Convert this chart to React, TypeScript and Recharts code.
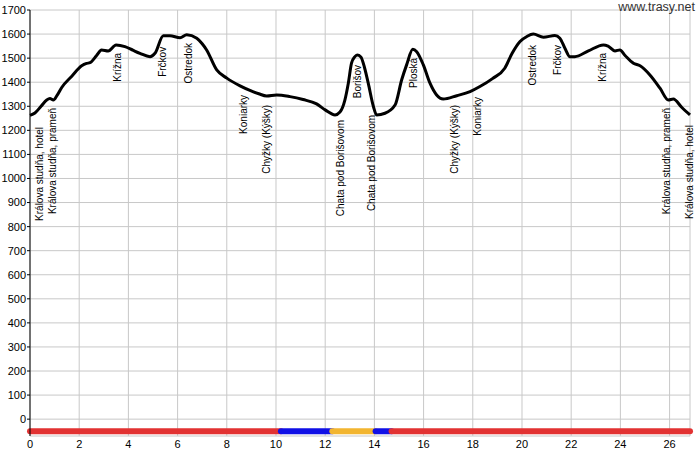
import React from 'react';
import { ComposedChart, Line, Scatter, XAxis, YAxis, CartesianGrid } from 'recharts';

const profileKm = [
  0, 0.2, 0.45, 0.68, 0.81, 0.95, 1.1, 1.29, 1.7, 2.1, 2.3, 2.44, 2.7, 2.91, 3.18, 3.5, 3.86, 4.2, 4.47, 4.88,
  5.08, 5.42, 5.69, 6.1, 6.37, 6.78, 7.0, 7.18, 7.59, 8.0, 8.54, 8.94, 9.3, 9.62, 10.03, 10.57, 11.1, 11.65, 12.0,
  12.4, 12.6, 12.8, 12.94, 13.07, 13.2, 13.3, 13.45, 13.6, 13.75, 13.96, 14.09, 14.43, 14.84, 15.11, 15.31, 15.56,
  15.72, 15.99, 16.26, 16.53, 16.8, 17.35, 17.89, 18.29, 18.8, 19.3, 19.6, 19.92, 20.2, 20.46, 20.87, 21.34, 21.54,
  21.75, 21.95, 22.15, 22.7, 23.31, 23.5, 23.78, 23.98, 24.2, 24.53, 24.8, 25.2, 25.61, 25.95, 26.15, 26.5, 26.83,
];
const profileEle = [
  1262, 1272, 1300, 1326, 1332, 1326, 1345, 1378, 1425, 1468, 1478, 1481, 1510, 1534, 1530, 1555, 1548, 1532, 1520, 1506,
  1520, 1593, 1593, 1585, 1597, 1583, 1560, 1534, 1451, 1417, 1385, 1366, 1352, 1343, 1347, 1340, 1328, 1310, 1285,
  1264, 1276, 1326, 1396, 1479, 1505, 1513, 1505, 1460, 1396, 1299, 1264, 1271, 1305, 1410, 1472, 1537,
  1527, 1472, 1396, 1347, 1330, 1344, 1361, 1382, 1415, 1458, 1520, 1569, 1590, 1600, 1587, 1594, 1583,
  1540, 1506, 1506, 1530, 1555, 1550, 1530, 1534, 1510, 1479, 1468, 1430, 1375, 1326, 1330, 1295, 1264,
];

const labelNames = [
  'Králova studňa, hotel', 'Králova studňa, prameň', 'Krížna', 'Frčkov', 'Ostredok', 'Koniarky', 'Chyžky (Kýšky)',
  'Chata pod Borišovom', 'Borišov', 'Chata pod Borišovom', 'Ploská', 'Chyžky (Kýšky)', 'Koniarky', 'Ostredok',
  'Frčkov', 'Krížna', 'Králova studňa, prameň', 'Králova studňa, hotel',
];
const labelKm = [0.37, 0.93, 3.54, 5.37, 6.46, 8.66, 9.63, 12.64, 13.33, 13.9, 15.61, 17.24, 18.21, 20.41, 21.46, 23.29, 25.89, 26.83];
const labelEle = [1214, 1293, 1522, 1547, 1563, 1347, 1306, 1243, 1472, 1264, 1501, 1306, 1339, 1555, 1555, 1522, 1293, 1222];

const surfaceStart = [0, 10.2, 12.29, 14.05, 14.7];
const surfaceEnd = [10.2, 12.29, 14.05, 14.7, 26.83];
const surfaceType = ['road', 'path', 'gravel', 'path', 'road'];
const surfaceLevel = -50;

const xTicks = [0, 2, 4, 6, 8, 10, 12, 14, 16, 18, 20, 22, 24, 26];
const yTicks = [0, 100, 200, 300, 400, 500, 600, 700, 800, 900, 1000, 1100, 1200, 1300, 1400, 1500, 1600, 1700];

const surfaceColors: Record<string, string> = { road: '#e23232', path: '#1010e6', gravel: '#f2b530' };
const FONT = '"Liberation Sans", Arial, sans-serif';

const profile = profileKm.map((km, i) => ({ km, ele: profileEle[i] }));
const labels = labelKm.map((km, i) => ({ km, ele: labelEle[i], name: labelNames[i] }));
const segments = surfaceStart.map((s, i) => ({
  color: surfaceColors[surfaceType[i]],
  data: [{ km: s, ele: surfaceLevel }, { km: surfaceEnd[i], ele: surfaceLevel }],
}));

const LabelShape = (props: any) => {
  const { cx, cy, payload } = props;
  if (cx == null || cy == null) return null;
  return (
    <text
      x={cx}
      y={cy}
      transform={`rotate(-90, ${cx}, ${cy})`}
      textAnchor="end"
      dominantBaseline="central"
      fontSize={10}
      fontFamily={FONT}
      fill="#000"
    >
      {payload.name}
    </text>
  );
};

export default function App() {
  return (
    <div style={{ position: 'absolute', left: 0, top: 0, width: 700, height: 450, background: '#fff' }}>
      <ComposedChart width={700} height={450} margin={{ top: 10, right: 10, bottom: 0, left: 0 }}>
        <CartesianGrid stroke="#c8c8c8" strokeWidth={1} />
        <XAxis
          dataKey="km"
          type="number"
          domain={[0, 26.83]}
          ticks={xTicks}
          interval={0}
          axisLine={false}
          tickLine={false}
          tickSize={2}
          tickMargin={2}
          height={14}
          tick={{ fontSize: 11, fontFamily: FONT, fill: '#000' }}
        />
        <YAxis
          dataKey="ele"
          type="number"
          domain={[-70, 1700]}
          ticks={yTicks}
          interval={0}
          width={30}
          axisLine={{ stroke: '#000' }}
          tickLine={{ stroke: '#000' }}
          tickSize={3}
          tickMargin={1}
          tick={{ fontSize: 11, fontFamily: FONT, fill: '#000' }}
        />
        {segments.map((seg, i) => (
          <Line
            key={i}
            data={seg.data}
            dataKey="ele"
            stroke={seg.color}
            strokeWidth={6}
            strokeLinecap="round"
            dot={false}
            activeDot={false}
            isAnimationActive={false}
          />
        ))}
        <Line
          data={profile}
          dataKey="ele"
          type="monotone"
          stroke="#000"
          strokeWidth={3}
          dot={false}
          activeDot={false}
          isAnimationActive={false}
        />
        <Scatter data={labels} dataKey="ele" shape={LabelShape} isAnimationActive={false} />
      </ComposedChart>
      <div
        style={{
          position: 'absolute',
          top: 0,
          right: 5,
          fontSize: 12.5,
          lineHeight: '15px',
          fontFamily: FONT,
          color: '#333',
        }}
      >
        www.trasy.net
      </div>
    </div>
  );
}
